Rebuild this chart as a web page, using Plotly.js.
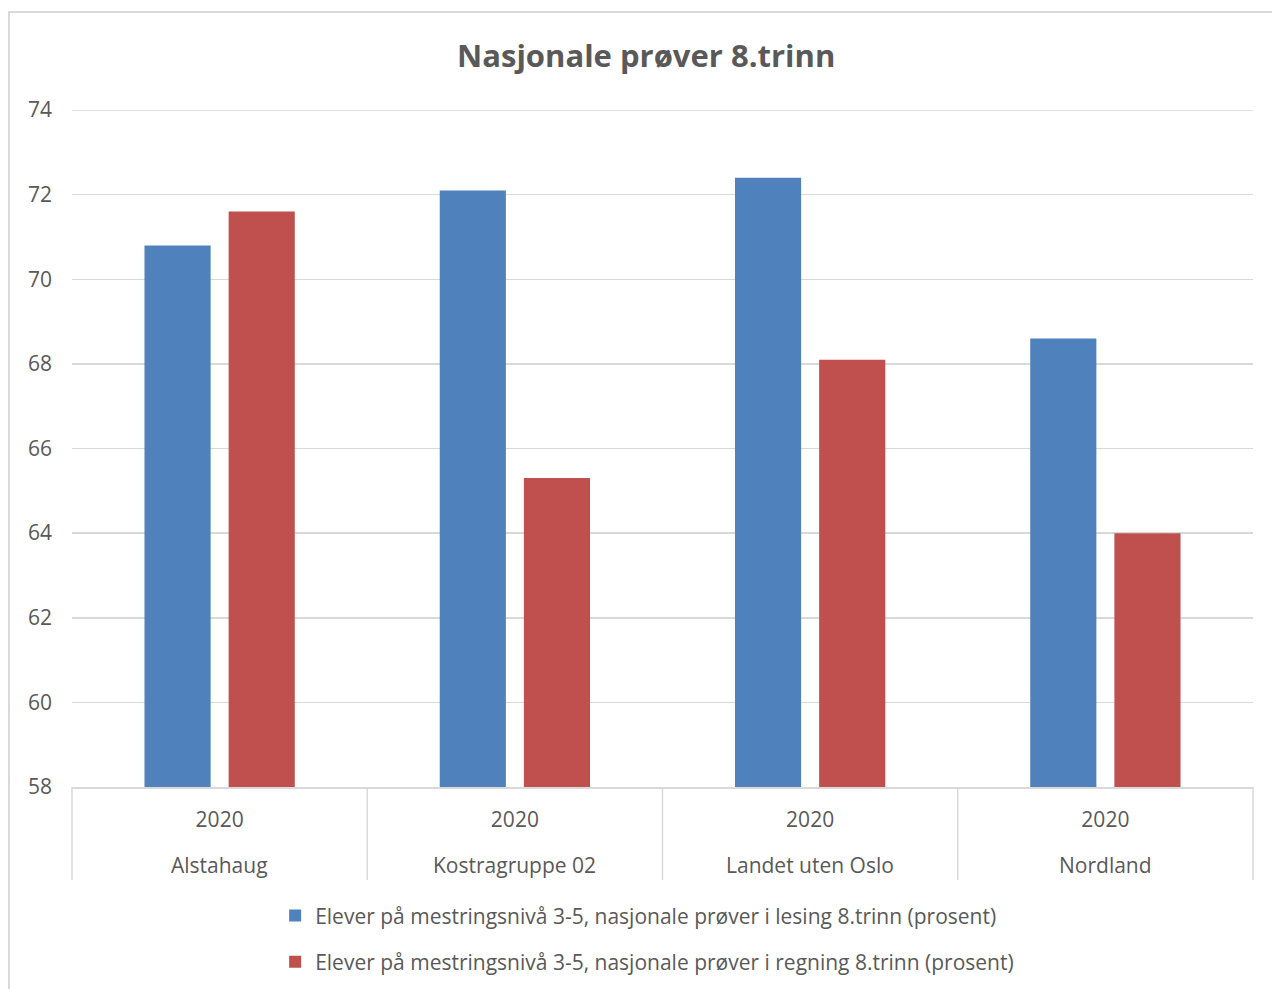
<!DOCTYPE html>
<html>
<head>
<meta charset="utf-8">
<script src="https://cdn.plot.ly/plotly-3.0.1.min.js"></script>
<style>
  html, body { margin: 0; padding: 0; background: #fff; overflow: hidden; }
  #chart { width: 1272px; height: 989px; position: relative; }
  #frame { position: absolute; left: 8px; top: 11px; width: 1300px; height: 1000px;
           border: 2px solid #D9D9D9; box-sizing: border-box; pointer-events: none; }
</style>
</head>
<body>
<div id="chart"></div>
<div id="frame"></div>
<script>
const categories = ["Alstahaug", "Kostragruppe 02", "Landet uten Oslo", "Nordland"];
const yearLabels = ["2020", "2020", "2020", "2020"];
const seriesNames = [
  "Elever på mestringsnivå 3-5, nasjonale prøver i lesing 8.trinn (prosent)",
  "Elever på mestringsnivå 3-5, nasjonale prøver i regning 8.trinn (prosent)"
];
const lesing = [70.8, 72.1, 72.4, 68.6];
const regning = [71.6, 65.3, 68.1, 64.0];
const yTicks = [58, 60, 62, 64, 66, 68, 70, 72, 74];

const FONT = "Open Sans, sans-serif";
const TXT = "#595959";
const GRID = "#D9D9D9";

const traces = [
  { type: "bar", x: categories, y: lesing, name: seriesNames[0],
    marker: { color: "#4F81BD" }, legendgroup: "a", hoverinfo: "y" },
  { type: "bar", x: categories, y: regning, name: seriesNames[1],
    marker: { color: "#C0504D" }, legendgroup: "b", hoverinfo: "y" }
];

const shapes = [];
for (let i = 0; i <= categories.length; i++) {
  shapes.push({ type: "line", xref: "paper", yref: "paper",
    x0: i / categories.length, x1: i / categories.length, y0: 0, y1: -0.1374,
    line: { color: GRID, width: 1.5 } });
}
// top gridline at the upper end of the range
shapes.push({ type: "line", xref: "paper", yref: "y", x0: 0, x1: 1,
  y0: yTicks[yTicks.length - 1], y1: yTicks[yTicks.length - 1],
  line: { color: GRID, width: 1.5 }, layer: "below" });

const annotations = categories.map(c => ({
  x: c, xref: "x", y: -0.1152, yref: "paper", yanchor: "middle", xanchor: "center",
  text: c, showarrow: false, font: { family: FONT, size: 21, color: TXT }
}));

const layout = {
  width: 1272, height: 989,
  margin: { l: 72, r: 19, t: 110, b: 202, autoexpand: false },
  paper_bgcolor: "#fff", plot_bgcolor: "#fff",
  title: { text: "<b>Nasjonale prøver 8.trinn</b>", x: 0.508, xanchor: "center",
           y: 1 - 56 / 989, yanchor: "middle",
           font: { family: FONT, size: 31, color: TXT } },
  barmode: "group", bargap: 0.43, bargroupgap: 0.214,
  xaxis: { type: "category", tickvals: categories, ticktext: yearLabels,
           showline: true, linecolor: GRID, linewidth: 1.5, showgrid: false,
           ticks: "", ticklabelstandoff: 13,
           tickfont: { family: FONT, size: 21, color: TXT }, fixedrange: true },
  yaxis: { range: [58, 74], tickvals: yTicks, showgrid: true, gridcolor: GRID, gridwidth: 1.5,
           zeroline: false, showline: false, ticks: "", ticklabelstandoff: 19,
           tickfont: { family: FONT, size: 21, color: TXT }, fixedrange: true },
  showlegend: true,
  legend: { orientation: "v", x: 0.172, xanchor: "left", y: -0.160, yanchor: "top",
            font: { family: FONT, size: 21, color: TXT }, tracegroupgap: 16,
            itemclick: false, itemdoubleclick: false, traceorder: "grouped" },
  shapes: shapes,
  annotations: annotations
};

Plotly.newPlot("chart", traces, layout, { displayModeBar: false, staticPlot: true });
</script>
</body>
</html>
